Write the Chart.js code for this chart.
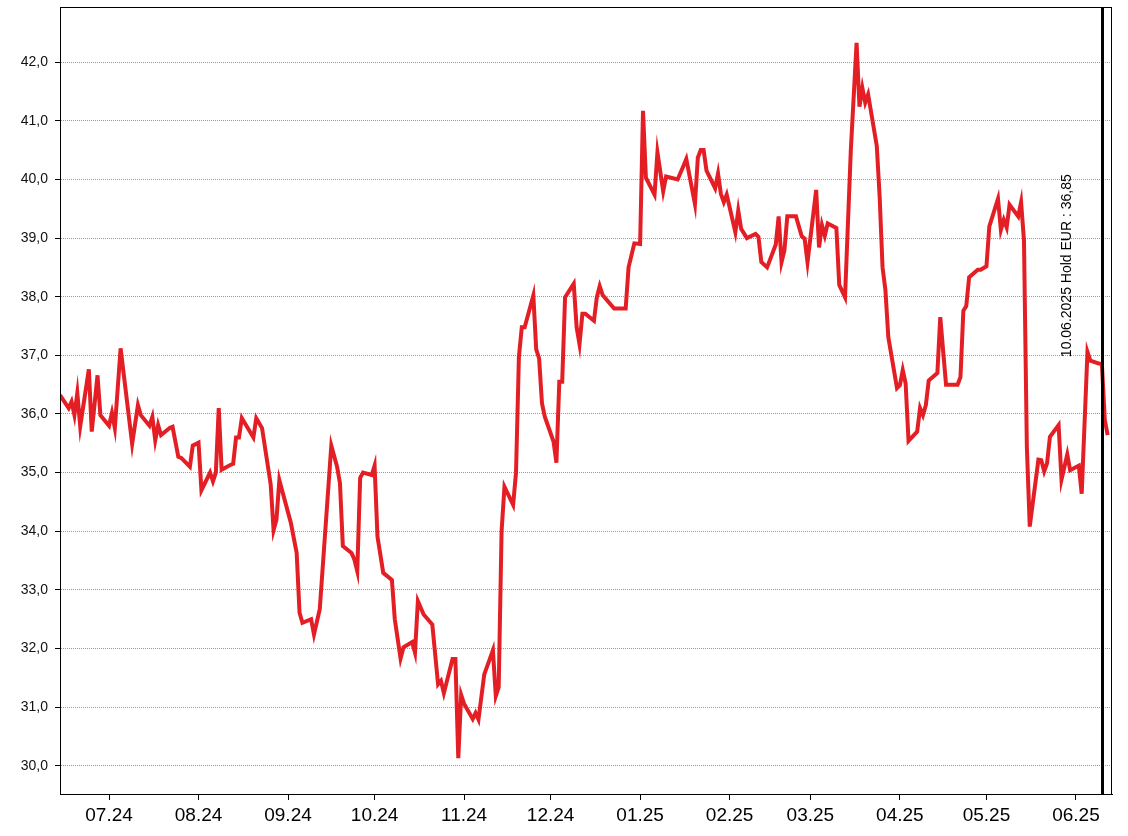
<!DOCTYPE html>
<html>
<head>
<meta charset="utf-8">
<script src="https://cdn.jsdelivr.net/npm/chart.js@4"></script>
<style>
  html, body { margin: 0; padding: 0; background: #fff; overflow: hidden; }
  canvas { display: block; }
</style>
</head>
<body>
<canvas id="priceChart" width="1128" height="836"></canvas>
<script>
// Price history, daily closes (EUR)
const dates = [
  '2024-06-14','2024-06-17','2024-06-18','2024-06-19','2024-06-20','2024-06-21','2024-06-24','2024-06-25','2024-06-27','2024-06-28',
  '2024-07-01','2024-07-02','2024-07-03','2024-07-05','2024-07-09','2024-07-11','2024-07-12','2024-07-15','2024-07-16','2024-07-17',
  '2024-07-18','2024-07-19','2024-07-22','2024-07-23','2024-07-25','2024-07-26','2024-07-29','2024-07-30','2024-08-01','2024-08-02',
  '2024-08-05','2024-08-06','2024-08-07','2024-08-08','2024-08-09','2024-08-12','2024-08-13','2024-08-14','2024-08-15','2024-08-16',
  '2024-08-20','2024-08-21','2024-08-23','2024-08-26','2024-08-27','2024-08-28','2024-08-29','2024-09-02','2024-09-04','2024-09-05',
  '2024-09-06','2024-09-09','2024-09-10','2024-09-12','2024-09-16','2024-09-18','2024-09-19','2024-09-20','2024-09-23','2024-09-24',
  '2024-09-25','2024-09-26','2024-09-27','2024-09-30','2024-10-01','2024-10-02','2024-10-04','2024-10-07','2024-10-08','2024-10-10',
  '2024-10-11','2024-10-14','2024-10-15','2024-10-16','2024-10-18','2024-10-21','2024-10-23','2024-10-24','2024-10-25','2024-10-28',
  '2024-10-29','2024-10-30','2024-10-31','2024-11-01','2024-11-04','2024-11-05','2024-11-06','2024-11-08','2024-11-11','2024-11-12',
  '2024-11-13','2024-11-14','2024-11-15','2024-11-18','2024-11-19','2024-11-20','2024-11-21','2024-11-22','2024-11-25','2024-11-26',
  '2024-11-27','2024-11-28','2024-11-29','2024-12-02','2024-12-03','2024-12-04','2024-12-05','2024-12-06','2024-12-09','2024-12-10',
  '2024-12-11','2024-12-12','2024-12-13','2024-12-16','2024-12-17','2024-12-18','2024-12-19','2024-12-23','2024-12-27','2024-12-28',
  '2024-12-30','2025-01-01','2025-01-02','2025-01-03','2025-01-06','2025-01-07','2025-01-09','2025-01-10','2025-01-14','2025-01-16',
  '2025-01-17','2025-01-20','2025-01-21','2025-01-22','2025-01-23','2025-01-24','2025-01-27','2025-01-28','2025-01-29','2025-01-30',
  '2025-01-31','2025-02-03','2025-02-04','2025-02-05','2025-02-07','2025-02-10','2025-02-11','2025-02-12','2025-02-14','2025-02-17',
  '2025-02-18','2025-02-19','2025-02-20','2025-02-21','2025-02-24','2025-02-26','2025-02-27','2025-02-28','2025-03-03','2025-03-04',
  '2025-03-05','2025-03-06','2025-03-07','2025-03-10','2025-03-11','2025-03-13','2025-03-15','2025-03-17','2025-03-18','2025-03-19',
  '2025-03-20','2025-03-21','2025-03-24','2025-03-25','2025-03-26','2025-03-27','2025-03-28','2025-03-31','2025-04-01','2025-04-02',
  '2025-04-03','2025-04-04','2025-04-07','2025-04-08','2025-04-09','2025-04-10','2025-04-11','2025-04-14','2025-04-15','2025-04-17',
  '2025-04-21','2025-04-22','2025-04-23','2025-04-24','2025-04-25','2025-04-28','2025-04-29','2025-04-30','2025-05-01','2025-05-02',
  '2025-05-05','2025-05-06','2025-05-07','2025-05-08','2025-05-09','2025-05-12','2025-05-13','2025-05-14','2025-05-15','2025-05-16',
  '2025-05-19','2025-05-20','2025-05-21','2025-05-22','2025-05-23','2025-05-26','2025-05-27','2025-05-29','2025-05-30','2025-06-02',
  '2025-06-03','2025-06-05','2025-06-06','2025-06-09','2025-06-10','2025-06-11','2025-06-12'
];
const prices = [
  36.32, 36.10, 36.21, 35.98, 36.36, 35.79, 36.76, 35.70, 36.66, 35.98,
  35.80, 36.02, 35.76, 37.12, 35.49, 36.15, 35.98, 35.80, 35.95, 35.55,
  35.81, 35.64, 35.76, 35.78, 35.27, 35.25, 35.10, 35.46, 35.51, 34.70,
  35.00, 34.85, 35.00, 36.10, 35.05, 35.13, 35.15, 35.60, 35.60, 35.93,
  35.60, 35.93, 35.76, 34.80, 34.02, 34.20, 34.87, 34.14, 33.63, 32.61,
  32.44, 32.50, 32.24, 32.67, 35.46, 35.10, 34.82, 33.75, 33.63, 33.52,
  33.32, 34.91, 35.00, 34.96, 35.12, 33.91, 33.29, 33.17, 32.50, 31.83,
  32.02, 32.11, 31.93, 32.81, 32.58, 32.41, 31.39, 31.45, 31.24, 31.82,
  31.82, 30.13, 31.21, 31.06, 30.80, 30.90, 30.79, 31.56, 31.97, 31.19,
  31.34, 34.00, 34.76, 34.45, 35.00, 36.97, 37.48, 37.48, 38.02, 37.10,
  36.95, 36.18, 35.95, 35.53, 35.17, 36.55, 36.55, 37.99, 38.22, 37.48,
  37.19, 37.71, 37.71, 37.59, 37.99, 38.18, 38.03, 37.80, 37.80, 38.50,
  38.91, 38.90, 41.17, 40.03, 39.74, 40.46, 39.80, 40.05, 40.00, 40.23,
  40.35, 39.58, 40.37, 40.50, 40.50, 40.15, 39.85, 40.10, 39.75, 39.61,
  39.74, 39.10, 39.47, 39.16, 39.00, 39.07, 39.02, 38.59, 38.50, 38.89,
  39.37, 38.59, 38.79, 39.37, 39.37, 39.03, 38.99, 38.59, 39.82, 38.84,
  39.22, 39.04, 39.25, 39.17, 38.20, 37.99, 40.49, 42.33, 41.24, 41.56,
  41.31, 41.45, 40.57, 39.70, 38.50, 38.11, 37.31, 36.44, 36.49, 36.75,
  36.52, 35.54, 35.70, 36.10, 35.98, 36.15, 36.57, 36.70, 37.65, 36.50,
  36.50, 36.63, 37.76, 37.84, 38.33, 38.46, 38.46, 38.49, 38.52, 39.20,
  39.67, 39.14, 39.31, 39.18, 39.57, 39.37, 39.61, 38.96, 35.44, 34.08,
  35.22, 35.21, 35.02, 35.16, 35.61, 35.81, 34.88, 35.31, 35.04, 35.12,
  34.64, 37.06, 36.91, 36.86, 36.85, 35.90, 35.64
];

// Axis ticks
const yTicks = [30, 31, 32, 33, 34, 35, 36, 37, 38, 39, 40, 41, 42];
const monthTicks = [
  '2024-07-01','2024-08-01','2024-09-01','2024-10-01','2024-11-01','2024-12-01',
  '2025-01-01','2025-02-01','2025-03-01','2025-04-01','2025-05-01','2025-06-01'
];

// Holding marker
const holdDate = '2025-06-10';
const holdPrice = 36.85;
const holdCurrency = 'EUR';

const DAY = 86400000;
const FONT = '"Liberation Sans", Arial, sans-serif';

function dayNum(s) {
  const [y, m, d] = s.split('-').map(Number);
  return Date.UTC(y, m - 1, d) / DAY;
}
function monthLabel(v) {
  const d = new Date(Math.round(v) * DAY);
  return String(d.getUTCMonth() + 1).padStart(2, '0') + '.' + String(d.getUTCFullYear()).slice(2);
}
function comma(v, n) {
  return v.toFixed(n).replace('.', ',');
}

const points = dates.map((d, i) => ({ x: dayNum(d), y: prices[i] }));

// 5% headroom above and below the data, like the source chart
const lo = Math.min(...prices), hi = Math.max(...prices);
const pad = (hi - lo) * 0.05;

const framePlugin = {
  id: 'frame',
  afterDraw(chart) {
    const { ctx, chartArea: a } = chart;
    ctx.save();
    ctx.strokeStyle = '#000';
    ctx.lineWidth = 1;
    ctx.strokeRect(Math.round(a.left) + 0.5, Math.round(a.top) + 0.5,
      Math.round(a.right - a.left) - 1, Math.round(a.bottom - a.top));
    ctx.restore();
  }
};

const holdPlugin = {
  id: 'holdMarker',
  afterDatasetsDraw(chart) {
    const { ctx, chartArea: a, scales } = chart;
    const x = Math.round(scales.x.getPixelForValue(dayNum(holdDate)));
    const y = scales.y.getPixelForValue(holdPrice);
    const label = holdDate.split('-').reverse().join('.') + ' Hold ' + holdCurrency + ' : ' + comma(holdPrice, 2);
    ctx.save();
    ctx.strokeStyle = '#000';
    ctx.lineWidth = 3;
    ctx.beginPath();
    ctx.moveTo(x + 0.5, a.top);
    ctx.lineTo(x + 0.5, a.bottom);
    ctx.stroke();
    ctx.translate(x - 31, y - 7);
    ctx.rotate(-Math.PI / 2);
    ctx.font = '14px ' + FONT;
    ctx.fillStyle = '#000';
    ctx.textAlign = 'left';
    ctx.textBaseline = 'alphabetic';
    ctx.fillText(label, 0, 0);
    ctx.restore();
  }
};

new Chart(document.getElementById('priceChart'), {
  type: 'line',
  data: {
    datasets: [{
      data: points,
      borderColor: '#e41e25',
      borderWidth: 4,
      pointRadius: 0,
      tension: 0,
      fill: false
    }]
  },
  options: {
    responsive: false,
    animation: false,
    layout: { padding: { top: 7, right: 16, left: 0, bottom: 0 } },
    plugins: { legend: { display: false }, tooltip: { enabled: false } },
    scales: {
      x: {
        type: 'linear',
        min: dayNum(dates[0]),
        max: dayNum(dates[dates.length - 1]) + 1.5,
        afterBuildTicks: s => { s.ticks = monthTicks.map(m => ({ value: dayNum(m) })); },
        afterFit: s => { s.height = 42; s.paddingLeft = 0; s.paddingRight = 0; },
        ticks: {
          autoSkip: false, maxRotation: 0, padding: 4, color: '#000',
          font: { family: FONT, size: 19 },
          callback: v => monthLabel(v)
        },
        grid: { drawOnChartArea: false, drawTicks: true, tickLength: 6, tickColor: '#000', tickWidth: 1 },
        border: { color: '#000', width: 1 }
      },
      y: {
        min: lo - pad,
        max: hi + pad,
        afterBuildTicks: s => { s.ticks = yTicks.map(v => ({ value: v })); },
        afterFit: s => { s.width = 60; s.paddingTop = 0; s.paddingBottom = 0; },
        ticks: {
          padding: 7, color: '#111',
          font: { family: FONT, size: 14 },
          callback: v => comma(v, 1)
        },
        grid: { color: '#9a9a9a', lineWidth: 1, tickLength: 5, tickColor: '#000', tickWidth: 1 },
        border: { color: '#000', width: 1, dash: [1, 1] }
      }
    }
  },
  plugins: [framePlugin, holdPlugin]
});
</script>
</body>
</html>
